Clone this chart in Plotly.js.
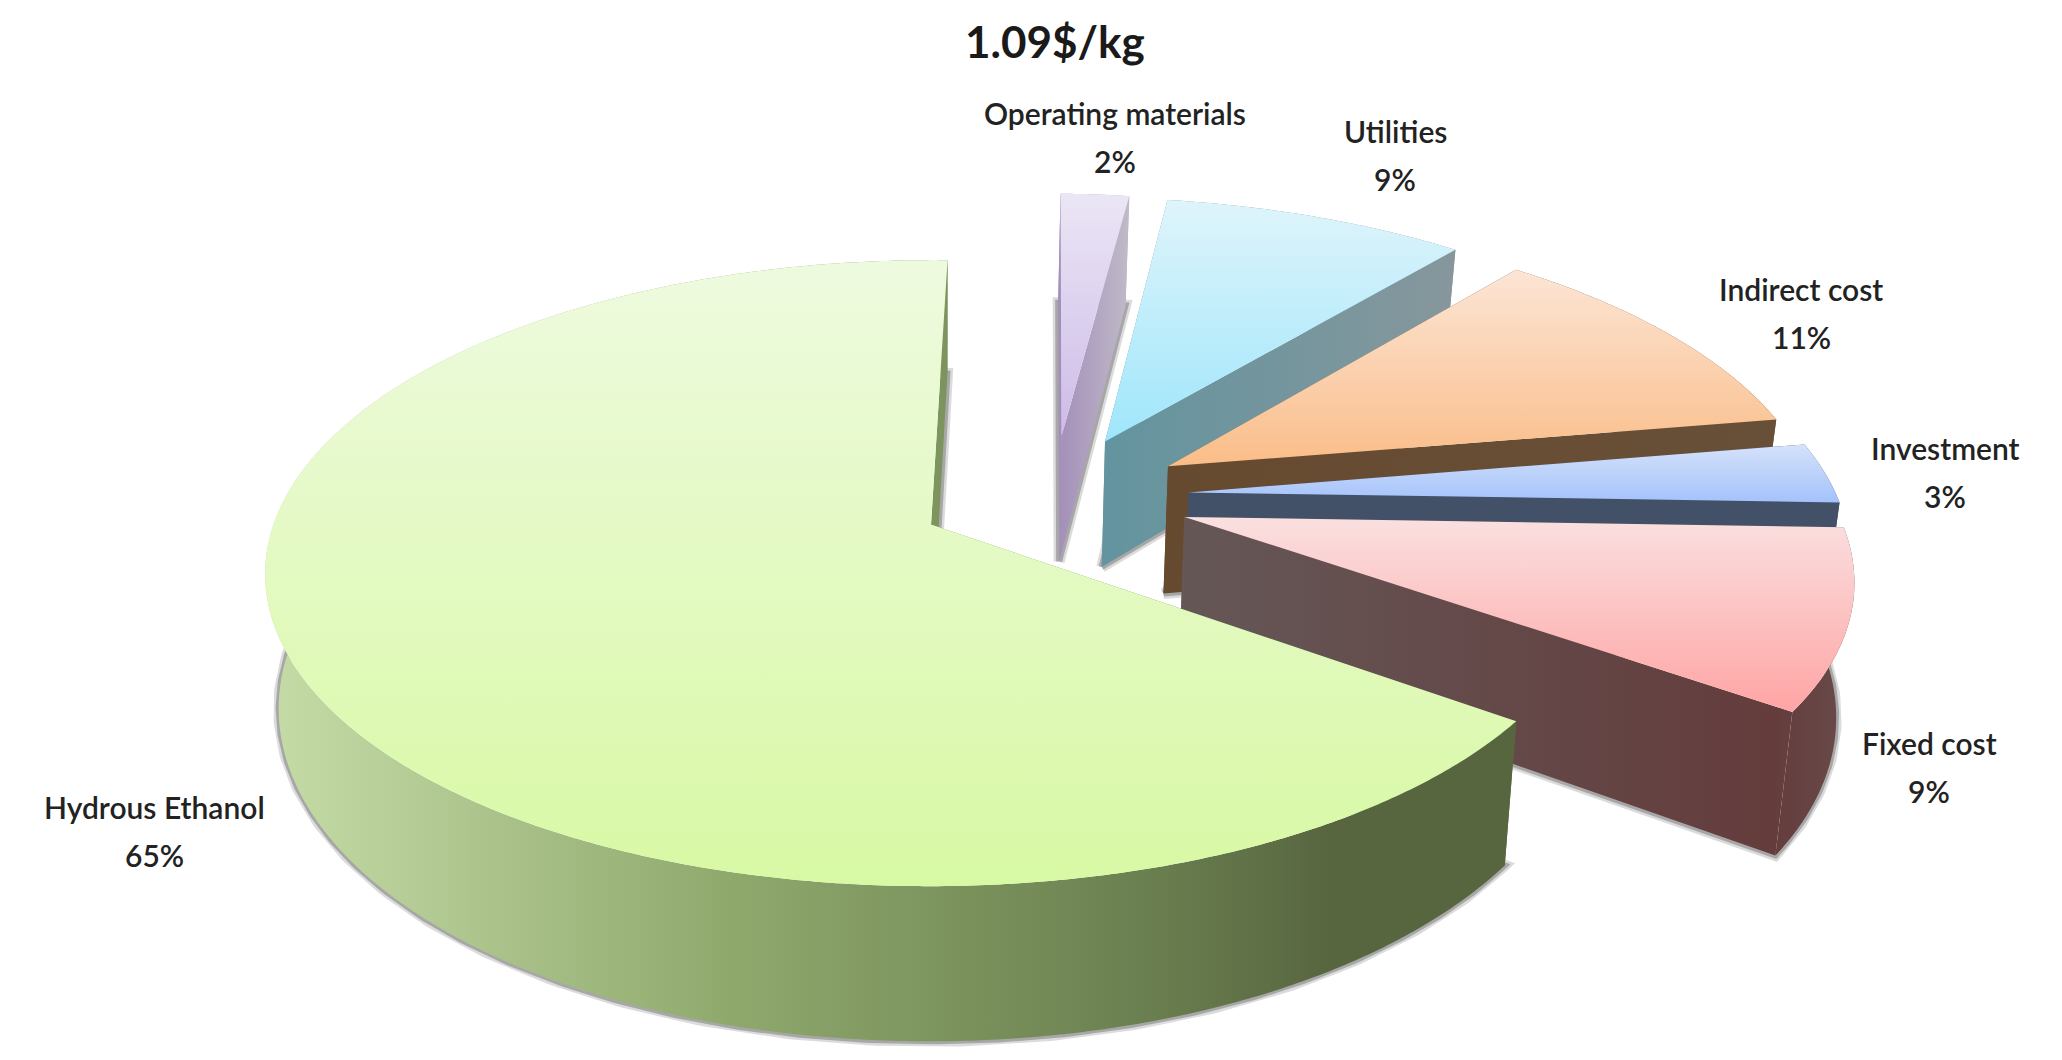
<!DOCTYPE html>
<html>
<head>
<meta charset="utf-8">
<script src="https://cdn.plot.ly/plotly-3.0.1.min.js"></script>
<style>html,body{margin:0;padding:0;background:#fff}#chart{width:2062px;height:1060px}</style>
</head>
<body>
<div id="chart"></div>
<script>
// slices, clockwise from 12 o'clock. shares, labels round them
const categories = ['Operating materials', 'Utilities', 'Indirect cost', 'Investment', 'Fixed cost', 'Hydrous Ethanol'];
const shares = [2.0, 8.8, 11.1, 3.2, 9.4, 65.4];
const chartTitle = '1.09$/kg';

const topColors = [['#ebe6f5', '#cdbbe8'], ['#dff4fb', '#9fe6fb'], ['#fce5d5', '#fabd88'],
                   ['#d5e2fa', '#a4c2fb'], ['#fae0e0', '#ffa4a4'], ['#eefadf', '#d8f9a4']];
const sideColors = [
  [[0, '#a38eb9'], [1, '#c0bac8']],
  [[0, '#63949f'], [1, '#86979c']],
  [[0, '#664a30'], [1, '#685038']],
  [[0, '#425068'], [1, '#425068']],
  [[0, '#655757'], [0.88, '#643c3c'], [1, '#6a4c4c']],
  [[0, '#c6dca8'], [0.37, '#8fa96d'], [0.7, '#6b8050'], [0.85, '#586640'], [1, '#586640']]
];
// label centres in page pixels
const labelX = [1115, 1395, 1801, 1945, 1929, 154];
const labelY = [113, 131, 289, 448, 743, 807];

// perspective camera for the tilted disc
const CX = 943, CY = 523, RX = 657, RY = 305, K = 0.155, DEPTH = 131, BOT = 0.98;
const START = 1.5;                // degrees
const PIE_U = 0.17, PIE_V = 0.088, EXPLODE = 0.21;

function project(u, v, z) {
  let s = 1 / (1 + K * v);
  return [CX + RX * u * s * (z ? BOT : 1), CY - RY * v * s + z * DEPTH * s];
}

function poly(pts) {
  return {x: pts.map(p => p[0]), y: pts.map(p => p[1])};
}

function faceTrace(pts, colorscale, vertical, from, to) {
  return Object.assign(poly(pts), {
    type: 'scatter', mode: 'none', fill: 'toself', hoverinfo: 'skip',
    fillgradient: {type: vertical ? 'vertical' : 'horizontal', colorscale: colorscale, start: from, stop: to}
  });
}

function shadowTrace(pts, width, alpha) {
  return Object.assign(poly(pts), {
    type: 'scatter', mode: 'lines', hoverinfo: 'skip',
    line: {color: 'rgba(90,90,90,' + alpha + ')', width: width}
  });
}

const total = shares.reduce((a, b) => a + b, 0);
const traces = [];
let ang = START;
shares.forEach((share, i) => {
  let a0 = ang, a1 = ang + share / total * 360;
  ang = a1;
  let mid = (a0 + a1) / 2 * Math.PI / 180;
  let ou = PIE_U + EXPLODE * Math.sin(mid), ov = PIE_V + EXPLODE * Math.cos(mid);
  // hydrous apex sits on the camera anchor, by construction of the fit
  let arc = z => {
    let out = [];
    for (let a = a0; a < a1; a += 0.5) {
      let t = a * Math.PI / 180;
      out.push(project(ou + Math.sin(t), ov + Math.cos(t), z));
    }
    let t = a1 * Math.PI / 180;
    out.push(project(ou + Math.sin(t), ov + Math.cos(t), z));
    return out;
  };
  let top = arc(0), bot = arc(1);
  let apexT = project(ou, ov, 0), apexB = project(ou, ov, 1);
  let xs = top.concat(bot, [apexT, apexB]).map(p => p[0]);
  let ys = top.concat([apexT]).map(p => p[1]);
  let x0 = Math.min(...xs), x1 = Math.max(...xs);
  let y0 = Math.min(...ys), y1 = Math.max(...ys);

  let footprint = [apexB].concat(bot, [apexB]);
  traces.push(shadowTrace(footprint, 11, 0.22));
  traces.push(shadowTrace(footprint, 6, 0.4));

  let side = sideColors[i];
  // cut faces, then rim, then the lid
  traces.push(faceTrace([apexT, top[0], bot[0], apexB, apexT], side, false, x0, x1));
  traces.push(faceTrace([apexT, top[top.length - 1], bot[bot.length - 1], apexB, apexT], side, false, x0, x1));
  traces.push(faceTrace(top.concat(bot.slice().reverse(), [top[0]]), side, false, x0, x1));
  traces.push(faceTrace([apexT].concat(top, [apexT]),
    [[0, topColors[i][0]], [1, topColors[i][1]]], true, y0, y1));
});

const annotations = [];
const labelFont = {family: 'Lato, "Open Sans", sans-serif', size: 30, color: '#222222', weight: 600};
categories.forEach((name, i) => {
  [name, Math.round(shares[i]) + '%'].forEach((txt, line) => {
    annotations.push({x: labelX[i], y: labelY[i] + line * 48, text: txt, showarrow: false,
      xref: 'x', yref: 'y', xanchor: 'center', yanchor: 'middle', font: labelFont});
  });
});
annotations.push({x: 1055, y: 41, text: chartTitle, showarrow: false, xref: 'x', yref: 'y',
  xanchor: 'center', yanchor: 'middle',
  font: {family: 'Lato, "Open Sans", sans-serif', size: 44, color: '#1a1a1a', weight: 700}});

const layout = {
  width: 2062, height: 1060,
  margin: {l: 0, r: 0, t: 0, b: 0},
  paper_bgcolor: '#ffffff', plot_bgcolor: '#ffffff',
  showlegend: false,
  xaxis: {range: [0, 2062], visible: false, fixedrange: true},
  yaxis: {range: [1060, 0], visible: false, fixedrange: true},
  annotations: annotations
};

Plotly.newPlot('chart', traces, layout, {displayModeBar: false, staticPlot: true});
</script>
</body>
</html>
